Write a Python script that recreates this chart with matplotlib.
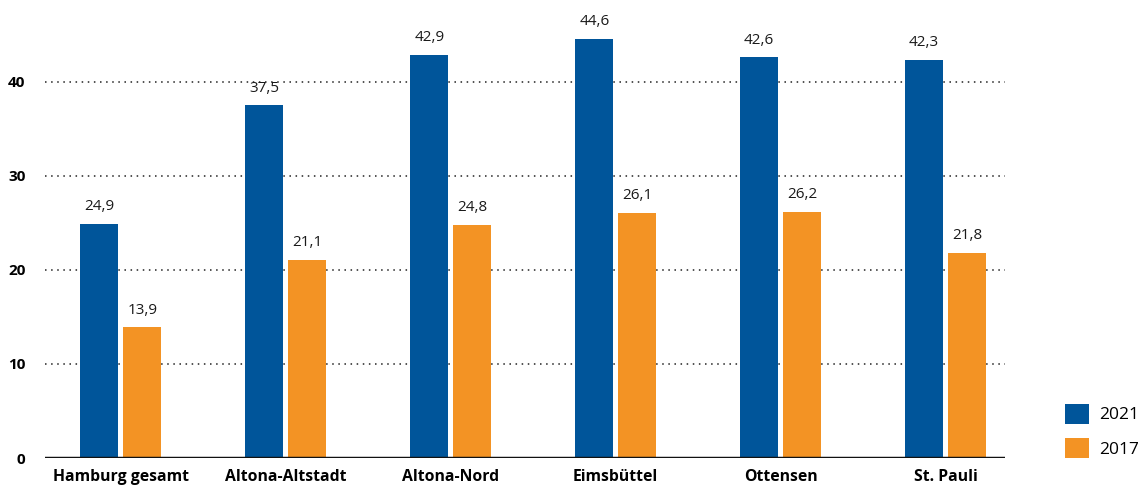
import numpy as np
import matplotlib
matplotlib.use('Agg')
import matplotlib.pyplot as plt

# Data
categories = ['Hamburg gesamt', 'Altona-Altstadt', 'Altona-Nord', 'Eimsbüttel', 'Ottensen', 'St. Pauli']
values_2021 = [24.9, 37.5, 42.9, 44.6, 42.6, 42.3]
values_2017 = [13.9, 21.1, 24.8, 26.1, 26.2, 21.8]
series_names = ['2021', '2017']
y_ticks = [0, 10, 20, 30, 40]

plt.rcParams['font.family'] = ['Open Sans', 'DejaVu Sans']

blue = '#00559a'
orange = '#f39324'

fig = plt.figure(figsize=(11.43, 4.94), dpi=100)
ax = fig.add_axes([45 / 1143, 36 / 494, 960 / 1143, 458 / 494])

x = np.arange(len(categories))
w = 0.23
off = 0.13
b1 = ax.bar(x - off, values_2021, w, color=blue, label=series_names[0], zorder=3)
b2 = ax.bar(x + off, values_2017, w, color=orange, label=series_names[1], zorder=3)

# value labels with German decimal comma
for bars, vals in [(b1, values_2021), (b2, values_2017)]:
    for rect, v in zip(bars, vals):
        ax.annotate(f'{v:.1f}'.replace('.', ','),
                    (rect.get_x() + rect.get_width() / 2, v),
                    xytext=(0, 7), textcoords='offset points',
                    ha='center', va='bottom', fontsize=11, color='#1a1a1a')

ax.set_xlim(-0.46, 5.36)
ax.set_ylim(0, 48.7)
ax.set_yticks(y_ticks)
ax.set_yticklabels([str(t) for t in y_ticks], fontweight='bold', fontsize=11)
ax.set_xticks(x)
ax.set_xticklabels(categories, fontweight='bold', fontsize=11.3)
ax.tick_params(axis='both', length=0, pad=8)
ax.tick_params(axis='y', pad=14)

for t in y_ticks[1:]:
    ax.axhline(t, color='#222222', linestyle=(0, (1, 3)), linewidth=1.1, zorder=1)
ax.axhline(0, color='#111111', linewidth=2.5, zorder=4)

for s in ax.spines.values():
    s.set_visible(False)

fig.legend(handles=[b1, b2], labels=series_names, loc='lower left',
           bbox_to_anchor=(1049 / 1143, 20 / 494), frameon=False,
           fontsize=12.5, handlelength=1.4, handleheight=1.4,
           labelspacing=0.85, handletextpad=0.6)

fig.savefig('out.png', dpi=100)
